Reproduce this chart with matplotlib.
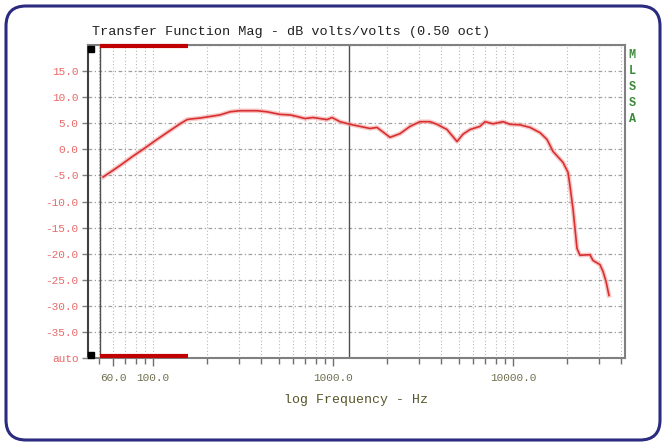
import matplotlib
matplotlib.use("Agg")
import matplotlib.pyplot as plt
from matplotlib.patches import FancyBboxPatch
from matplotlib.transforms import IdentityTransform
from matplotlib.ticker import FixedLocator, NullFormatter

# curve (Hz, dB)
freq_hz = [52.8, 65.6, 77.4, 88.0, 105.2, 124.3, 141.3, 154.5, 160.6, 182.5,
           207.4, 235.6, 267.9, 304.2, 378.4, 429.9, 507.6, 577.0, 631.0, 699,
           774, 847, 926, 987, 1094, 1243, 1413, 1606, 1756, 2073,
           2356, 2678, 3043, 3459, 3783, 4299, 4886, 5275, 5770, 6556,
           6990, 7743, 8799, 9623, 10937, 12431, 14125, 15450, 16681, 18957,
           20209, 20733, 21544, 22111, 22675, 23550, 26780, 27826, 30430, 31623,
           32864, 34145]
mag_db = [-5.3, -3.1, -1.3, 0.0, 1.9, 3.6, 4.9, 5.7, 5.8, 6.0,
          6.3, 6.6, 7.2, 7.4, 7.4, 7.2, 6.7, 6.6, 6.3, 5.9,
          6.1, 5.9, 5.7, 6.1, 5.3, 4.8, 4.4, 4.0, 4.2, 2.3,
          3.0, 4.4, 5.3, 5.3, 4.8, 3.8, 1.5, 2.9, 3.8, 4.4,
          5.3, 4.9, 5.3, 4.8, 4.7, 4.2, 3.2, 1.9, -0.4, -2.5,
          -4.4, -7.0, -11.4, -15.2, -19.0, -20.3, -20.2, -21.3, -22.1, -23.4,
          -25.3, -28.0]

y_ticks = [-40, -35, -30, -25, -20, -15, -10, -5, 0, 5, 10, 15]
y_labels = ['auto', '-35.0', '-30.0', '-25.0', '-20.0', '-15.0', '-10.0',
            '-5.0', '0.0', '5.0', '10.0', '15.0']
x_ticks = [60, 100, 1000, 10000]
x_labels = ['60.0', '100.0', '1000.0', '10000.0']
minor_hz = [50, 60, 70, 80, 90, 100, 200, 300, 400, 500, 600, 700, 800, 900,
            1000, 2000, 3000, 4000, 5000, 6000, 7000, 8000, 9000,
            10000, 20000, 30000, 40000]
marker_hz = [51, 1227]
band_hz = [50.6, 156]

mono = 'Liberation Mono'

fig = plt.figure(figsize=(6.66, 4.47), dpi=100)
ax = fig.add_axes([0.1321, 0.1991, 0.8063, 0.7002])

ax.set_xscale('log')
ax.set_xlim(43.5, 41900)
ax.set_ylim(-40, 20)

# grid
for f in minor_hz:
    ax.axvline(f, color='#b8b8b8', lw=0.8, ls=(0, (1, 2)), zorder=1)
for v in y_ticks[1:] + [20]:
    ax.axhline(v, color='#a0a0a0', lw=0.9, ls=(0, (3, 2, 1, 2)), zorder=1)
for f in marker_hz:
    ax.axvline(f, color='#505050', lw=1.0, zorder=2)

# response
ax.plot(freq_hz, mag_db, color='#f4a0a0', lw=3.2, alpha=0.6, zorder=3)
ax.plot(freq_hz, mag_db, color='#d83030', lw=1.2, zorder=4)

# red band markers on top and bottom edges
ax.plot(band_hz, [19.8, 19.8], color='#c00000', lw=3, solid_capstyle='butt',
        clip_on=False, zorder=5)
ax.plot(band_hz, [-39.6, -39.6], color='#c00000', lw=3, solid_capstyle='butt',
        clip_on=False, zorder=5)
ax.plot([0.006, 0.006], [0.988, 0.01], 's', color='black', ms=4.5,
        transform=ax.transAxes, clip_on=False, zorder=6)

# ticks
ax.set_yticks(y_ticks)
ax.set_yticklabels(y_labels, fontfamily=mono, fontsize=8, color='#e86a6a')
ax.tick_params(axis='y', length=4, width=1, color='#808080', pad=3)
ax.xaxis.set_major_locator(FixedLocator(x_ticks))
ax.set_xticklabels(x_labels, fontfamily=mono, fontsize=8, color='#707050')
ax.xaxis.set_minor_locator(FixedLocator(minor_hz))
ax.xaxis.set_minor_formatter(NullFormatter())
ax.tick_params(axis='x', which='major', length=6, width=1, color='#707070', pad=5)
ax.tick_params(axis='x', which='minor', length=4, width=1, color='#707070')

for s in ax.spines.values():
    s.set_color('#808080')
    s.set_linewidth(1.5)
ax.spines['left'].set_color('#404040')

ax.set_xlabel('log Frequency - Hz', fontfamily=mono, fontsize=9.5,
              color='#55552a', labelpad=8)
fig.text(0.138, 0.922, 'Transfer Function Mag - dB volts/volts (0.50 oct)',
         fontfamily=mono, fontsize=9.7, color='#202020')

for i, ch in enumerate('MLSSA'):
    fig.text(0.949, 0.877 - i * 0.036, ch, fontfamily=mono, fontsize=8.5,
             fontweight='bold', color='#3a8a3a', ha='center', va='center')

# outer rounded frame
box = FancyBboxPatch((6, 7), 654, 434, boxstyle='round,pad=0,rounding_size=20',
                     transform=IdentityTransform(), fill=False,
                     edgecolor='#2b2b80', lw=2.2)
fig.add_artist(box)

fig.savefig('out.png', dpi=100)
